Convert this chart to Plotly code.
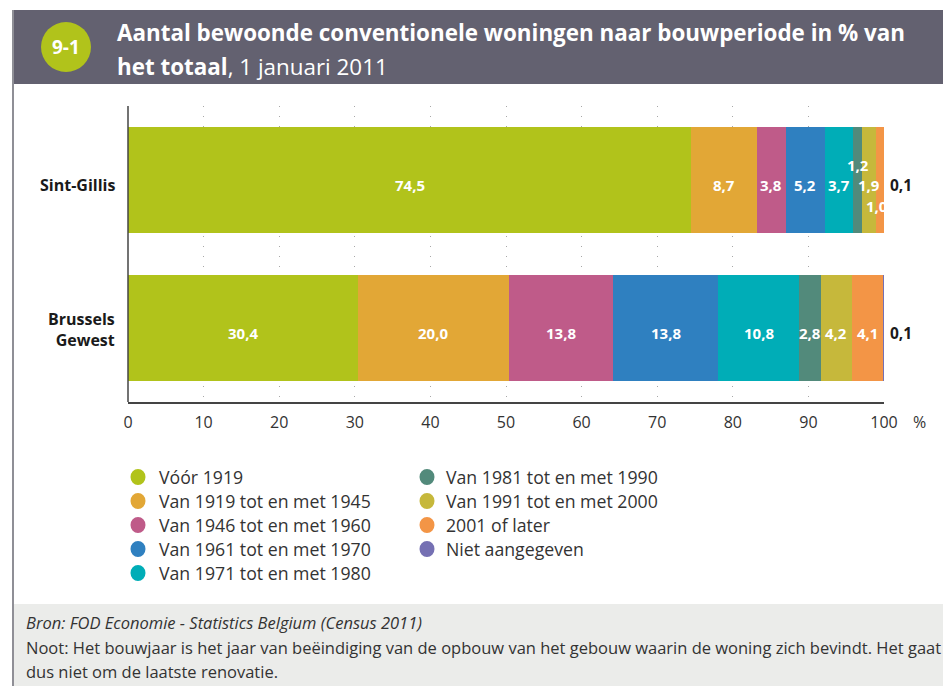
import plotly.graph_objects as go

W, H = 943, 686

categories = ["Sint-Gillis", "Brussels Gewest"]
cat_labels = ["<b>Sint-Gillis</b>", "<b>Brussels<br>Gewest</b>"]
series_names = [
    "Vóór 1919",
    "Van 1919 tot en met 1945",
    "Van 1946 tot en met 1960",
    "Van 1961 tot en met 1970",
    "Van 1971 tot en met 1980",
    "Van 1981 tot en met 1990",
    "Van 1991 tot en met 2000",
    "2001 of later",
    "Niet aangegeven",
]
sint_gillis = [74.5, 8.7, 3.8, 5.2, 3.7, 1.2, 1.9, 1.0, 0.1]
brussels = [30.4, 20.0, 13.8, 13.8, 10.8, 2.8, 4.2, 4.1, 0.1]
colors = ["#b1c31b", "#e2a736", "#bf5b89", "#2f80c0", "#00adb7",
          "#528a7b", "#c6b83b", "#f39546", "#7570b3"]
x_ticks = [0, 10, 20, 30, 40, 50, 60, 70, 80, 90, 100]

FONT = "Open Sans"
TXT = "#333333"


def px(x):
    return x / W


def py(y):
    return 1 - y / H


fig = go.Figure()
values = [sint_gillis, brussels]
for i, name in enumerate(series_names):
    fig.add_trace(go.Bar(
        y=[0, 1], x=[sint_gillis[i], brussels[i]], orientation="h",
        name=name, marker=dict(color=colors[i], line=dict(width=0)),
        width=0.716, showlegend=False, hoverinfo="x+name",
    ))

annotations = []
shapes = []


def note(x, y, text, size, color=TXT, xanchor="center", yanchor="middle", **kw):
    annotations.append(dict(x=px(x), y=py(y), xref="paper", yref="paper", text=text,
                            xanchor=xanchor, yanchor=yanchor, showarrow=False,
                            font=dict(family=FONT, size=size, color=color), **kw))


# bar value labels
special = {(0, 5): (0, -15), (0, 6): (0, 5), (0, 7): (-3, 26)}
for r, vals in enumerate(values):
    cum = 0
    for i, v in enumerate(vals):
        mid = cum + v / 2
        cum += v
        label = f"{v:.1f}".replace(".", ",")
        if i == len(vals) - 1:
            annotations.append(dict(x=100, y=r, xref="x", yref="y", text=f"<b>{label}</b>",
                                    xanchor="center", yanchor="middle",
                                    xshift=17, yshift=-5, showarrow=False,
                                    font=dict(family=FONT, size=15.5, color="#1a1a1a")))
            continue
        dx, dy = special.get((r, i), (0, 5))
        annotations.append(dict(x=mid, y=r, xref="x", yref="y", text=f"<b>{label}</b>",
                                xanchor="center", yanchor="middle",
                                xshift=dx, yshift=-dy, showarrow=False,
                                font=dict(family=FONT, size=15, color="white")))

# category labels
note(117, 185, cat_labels[0], 16, color="#1a1a1a", xanchor="right", align="right")
note(117, 329, cat_labels[1], 16, color="#1a1a1a", xanchor="right", align="right")

# percent sign
note(919, 422, "%", 16)

# header
shapes.append(dict(type="rect", xref="paper", yref="paper", x0=px(13), x1=1, y0=py(84), y1=py(10),
                   fillcolor="#636170", line=dict(width=0), layer="below"))
shapes.append(dict(type="circle", xref="paper", yref="paper", x0=px(41), x1=px(91), y0=py(72), y1=py(22),
                   fillcolor="#b1c31b", line=dict(width=0)))
note(66, 47, "<b>9-1</b>", 19, color="white")
note(115, 33, "<b>Aantal bewoonde conventionele woningen naar bouwperiode in % van</b>", 22.4,
     color="white", xanchor="left")
note(115, 66, "<b>het totaal</b>, 1 januari 2011", 22.4, color="white", xanchor="left")

# left border
shapes.append(dict(type="line", xref="paper", yref="paper", x0=px(13), x1=px(13), y0=0, y1=py(10),
                   line=dict(color="#8f8f96", width=2)))

# legend (two columns)
for i, name in enumerate(series_names):
    col = 0 if i < 5 else 1
    row = i if i < 5 else i - 5
    cx = 138 if col == 0 else 427
    tx = 157 if col == 0 else 444
    cy = 477 + row * 24
    shapes.append(dict(type="circle", xref="paper", yref="paper",
                       x0=px(cx - 7.5), x1=px(cx + 7.5), y0=py(cy + 8), y1=py(cy - 8),
                       fillcolor=colors[i], line=dict(width=0)))
    note(tx, cy, name, 17.7, xanchor="left")

# footer
shapes.append(dict(type="rect", xref="paper", yref="paper", x0=px(13), x1=1, y0=0, y1=py(604),
                   fillcolor="#ebecea", line=dict(width=0), layer="below"))
footer = [
    ("<i>Bron: FOD Economie - Statistics Belgium (Census 2011)</i>", 622),
    ("Noot: Het bouwjaar is het jaar van beëindiging van de opbouw van het gebouw waarin de woning zich bevindt. Het gaat", 647),
    ("dus niet om de laatste renovatie.", 671),
]
for text, y in footer:
    note(24, y, text, 16.5, xanchor="left")

# left axis line of plot
shapes.append(dict(type="line", xref="paper", yref="paper", x0=px(128), x1=px(128),
                   y0=py(402), y1=py(106), line=dict(color="#444444", width=1.5)))

fig.update_layout(
    width=W, height=H,
    margin=dict(l=0, r=0, t=0, b=0, autoexpand=False),
    paper_bgcolor="white", plot_bgcolor="white",
    barmode="stack", bargap=0,
    font=dict(family=FONT, color=TXT),
    xaxis=dict(domain=[px(128), px(884)], range=[0, 100], tickvals=x_ticks,
               ticktext=[str(t) for t in x_ticks], automargin=False,
               showgrid=True, gridcolor="#a8a8a8", griddash="1px,9px", gridwidth=1,
               zeroline=False, showline=True, linecolor="#444444", linewidth=1.5,
               ticks="", ticklabelstandoff=5,
               tickfont=dict(family=FONT, size=16, color=TXT), fixedrange=True),
    yaxis=dict(domain=[py(402), py(106)], range=[1.5, -0.5], showticklabels=False,
               automargin=False,
               showgrid=False, zeroline=False, showline=False, fixedrange=True),
    annotations=annotations, shapes=shapes,
)

fig.write_html(
    "out.html",
    config=dict(displayModeBar=False),
    post_script="document.body.style.margin='0';document.body.style.overflow='hidden';"
                "document.documentElement.style.overflow='hidden';",
)
